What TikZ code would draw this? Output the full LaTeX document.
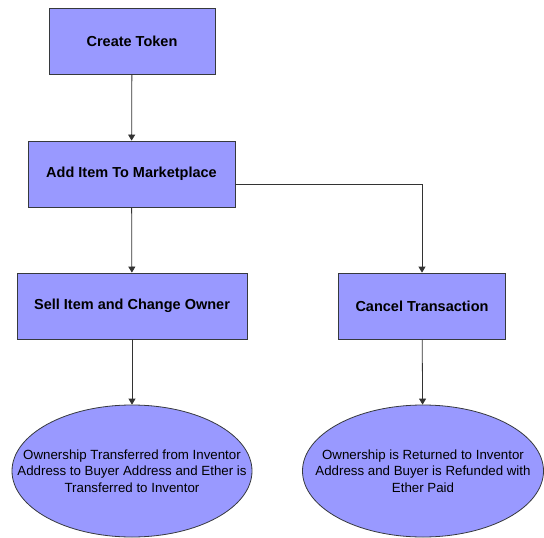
\documentclass[tikz,border=0pt]{standalone}
\usepackage{fontspec}
\setmainfont{Liberation Sans}
\usetikzlibrary{shapes.geometric,arrows.meta}

\definecolor{stepfill}{RGB}{153,153,255}
\definecolor{stepline}{RGB}{54,57,61}

\begin{document}
\begin{tikzpicture}[x=1pt, y=-1pt,
	box/.style={rectangle, draw=stepline, fill=stepfill, thick, inner sep=0pt, minimum height=66pt, font=\fontsize{14.5}{17}\selectfont\bfseries},
	oval/.style={ellipse, draw=stepline, fill=stepfill, thick, inner sep=0pt, minimum height=132pt},
	ovaltext/.style={align=center, inner sep=0pt, font=\fontsize{13.3}{16.7}\selectfont},
	every path/.style={draw=black!80, thick}]
				\useasboundingbox[draw=none] (0,0) rectangle (544,538);
				\node[box, minimum width=166pt] (token) at (132,41){Create Token};
				\node[box, minimum width=207pt] (market) at (131.5,174){Add Item To Marketplace};
				\node[box, minimum width=230pt] (sell) at (132,306){Sell Item and Change Owner};
				\node[box, minimum width=167pt] (cancel) at (422,306){Cancel Transaction};
				
				\node[oval, minimum width=240pt] (owner1) at (132,471){};
				\node[oval, minimum width=241pt] (owner2) at (423,471){};
				\node[ovaltext] (owner1text) at (owner1){Ownership Transferred from Inventor\\Address to Buyer Address and Ether is\\Transferred to Inventor};
				\node[ovaltext] (owner2text) at (owner2){Ownership is Returned to Inventor\\Address and Buyer is Refunded with\\Ether Paid};
				
				\draw[-{Triangle[length=6pt,width=7pt]}] (token) -- (market);
				\draw[-{Triangle[length=6pt,width=7pt]}] (market) -- (sell);
				\draw[-{Triangle[length=6pt,width=7pt]}] ([yshift=-10pt]market.east) -| (cancel);
				\draw[-{Triangle[length=6pt,width=7pt]}] (sell) -- (owner1);
				\draw[-{Triangle[length=6pt,width=7pt]}] (cancel) -- (owner2);
				\end{tikzpicture}
\end{document}
